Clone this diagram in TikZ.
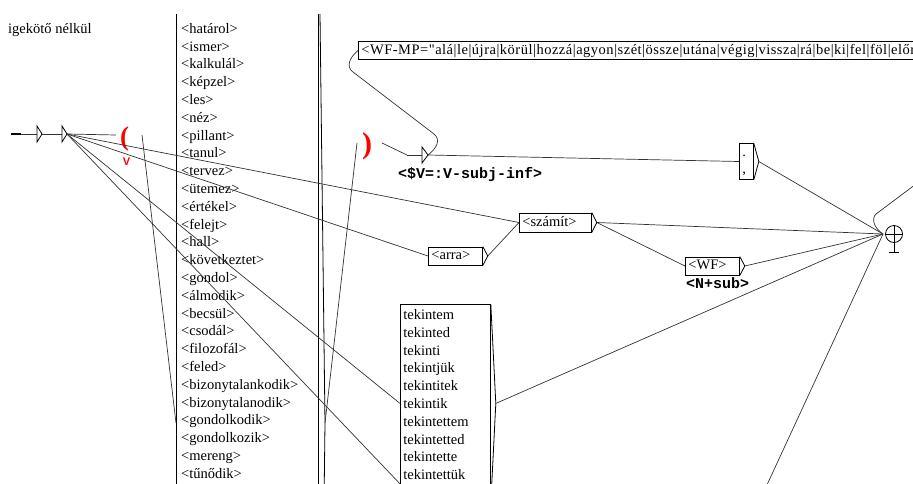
\documentclass[tikz,border=0pt]{standalone}
\usepackage{fontspec}
\setmainfont{Liberation Serif}
\newfontfamily\monobetu{Liberation Mono}
\newfontfamily\sansbetu{Liberation Sans}
\newfontfamily\ritkabetu[LetterSpace=3.5]{Liberation Serif}

\newcommand{\betu}{\fontsize{14.5}{17.8}\selectfont}
% kimeneti háromszög a doboz jobb oldalán
\newcommand{\csucs}[1]{\draw[line width=0.8pt] (#1.north east) -- ([xshift=5pt]#1.east) coordinate (#1ki) -- (#1.south east);}

\tikzset{
  doboz/.style={draw, line width=0.8pt, anchor=west, align=left, inner xsep=3pt, inner ysep=0pt, font=\betu},
  vonal/.style={black!80, line width=0.7pt},
  kimenet/.style={anchor=base west, inner sep=0pt, font=\monobetu\bfseries\fontsize{15}{15}\selectfont},
  zarojel/.style={text=red, inner sep=0pt}
}

\begin{document}
\begin{tikzpicture}[x=1pt, y=-1pt]
    \useasboundingbox (0,0) rectangle (913,483);
    \clip (0,0) rectangle (913,483);

    % Felirat
    \node[anchor=base west, inner sep=0pt, font=\betu] (cim) at (8,33) {igekötő nélkül};

    % Kezdőállapot és üres doboz
    \coordinate (kezd) at (11,134);
    \coordinate (e1) at (42,134);
    \coordinate (e1ki) at (67,134);
    \draw[line width=1.4pt] (kezd) -- (21,134);
    \draw[vonal] (21,134) -- (37,134);
    \draw[line width=0.8pt] (37,126) -- (e1) -- (37,142) -- cycle;
    \draw[vonal] (e1) -- (62,134);
    \draw[line width=0.8pt] (62,126) -- (e1ki) -- (62,142) -- cycle;

    % Változó eleje
    \node[zarojel, font=\bfseries\fontsize{27}{27}\selectfont] (nyit) at (124.5,139) {(};
    \node[zarojel, font=\sansbetu\bfseries\fontsize{11}{11}\selectfont] (valt) at (126.5,161.5) {V};
    \coordinate (nyitBe) at (116,135);
    \coordinate (nyitKi) at (142,135);

    % Igék listája (a doboz teteje és alja kilóg)
    \node[anchor=north west, align=left, inner sep=0pt, font=\betu] (igek) at (181,23)
      {<határol>\\<ismer>\\<kalkulál>\\<képzel>\\<les>\\<néz>\\<pillant>\\<tanul>\\<tervez>\\<ütemez>\\<értékel>\\<felejt>\\<hall>\\<következtet>\\<gondol>\\<álmodik>\\<becsül>\\<csodál>\\<filozofál>\\<feled>\\<bizonytalankodik>\\<bizonytalanodik>\\<gondolkodik>\\<gondolkozik>\\<mereng>\\<tűnődik>};
    \draw[line width=0.8pt] (176,14) -- (176,490);
    \draw[line width=0.8pt] (318,14) -- (318,490);
    \draw[line width=0.8pt] (320,14) -- (325,423) -- (318,997);
    \coordinate (listaBe) at (176,423);
    \coordinate (listaKi) at (325,423);

    % Változó vége
    \node[zarojel, font=\bfseries\fontsize{30}{30}\selectfont] (zar) at (367,146.5) {)};
    \coordinate (zarBe) at (357,143);
    \coordinate (zarKi) at (382,143);

    % Üres doboz kimenettel
    \coordinate (e2) at (407,155);
    \coordinate (e2ki) at (428,155);
    \draw[vonal] (e2) -- (422,155);
    \draw[line width=0.8pt] (422,147) -- (e2ki) -- (422,163) -- cycle;
    \node[kimenet] (sv) at (398,178) {<\$V=:V-subj-inf>};

    % Igekötők
    \node[doboz, text width=600pt, minimum height=17pt, font=\ritkabetu\betu] (wfmp) at (358,50.5)
      {\strut<WF-MP=\char"0022 alá|le|újra|körül|hozzá|agyon|szét|össze|utána|végig|vissza|rá|be|ki|fel|föl|előr};

    % Írásjelek
    \node[doboz, text width=8pt, minimum height=35pt] (pont) at (739,161.5) {\strut.\\\strut,};
    \csucs{pont}

    % számít, arra, WF
    \node[doboz, text width=66pt, minimum height=19pt] (szamit) at (519,222.5) {\strut<számít>};
    \csucs{szamit}
    \node[doboz, text width=48pt, minimum height=18pt] (arra) at (428,256) {\strut<arra>};
    \csucs{arra}
    \node[doboz, text width=48pt, minimum height=18pt] (wf) at (685,266) {\strut<WF>};
    \csucs{wf}
    \node[kimenet] (nsub) at (686,288) {<N+sub>};

    % tekint alakjai
    \node[doboz, anchor=north west, text width=84pt, inner ysep=5pt] (tekint) at (400,304)
      {tekintem\\tekinted\\tekinti\\tekintjük\\tekintitek\\tekintik\\tekintettem\\tekintetted\\tekintette\\tekintettük\\\mbox{}};
    \csucs{tekint}

    % Végállapot
    \node[circle, draw, line width=0.8pt, minimum size=17pt, inner sep=0pt] (veg) at (894,234) {};
    \draw[line width=0.8pt] (veg.west) -- (veg.east) (veg.north) -- (894,252) (889,252) -- (899,252);
    \coordinate (vegBe) at (883,234);

    % Kilógó végpontok
    \coordinate (lent1) at (403,487);
    \coordinate (lent2) at (766,487);
    \coordinate (jobbra) at (916,184);

    % Átmenetek
    \draw[vonal] (e1ki) -- (nyitBe);
    \draw[vonal] (e1ki) -- (szamit.west);
    \draw[vonal] (e1ki) -- (arra.west);
    \draw[vonal] (e1ki) -- (tekint.west);
    \draw[vonal] (e1ki) -- (lent1);
    \draw[vonal] (nyitKi) -- (listaBe);
    \draw[vonal] (listaKi) -- (zarBe);
    \draw[vonal] (zarKi) -- (e2);
    \draw[vonal] (e2ki) -- (pont.west);
    \draw[vonal] (e2ki) .. controls (437,148) and (441,140) .. (434,134) -- (353,72) .. controls (346,67) and (349,58) .. (wfmp.west);
    \draw[vonal] (arraki) -- (szamit.west);
    \draw[vonal] (szamitki) -- (wf.west);
    \draw[vonal] (szamitki) -- (vegBe);
    \draw[vonal] (wfki) -- (vegBe);
    \draw[vonal] (pontki) -- (vegBe);
    \draw[vonal] (tekintki) -- (vegBe);
    \draw[vonal] (lent2) -- (vegBe);
    \draw[vonal] (jobbra) -- (876,214) .. controls (871,219) and (874,228) .. (vegBe);
\end{tikzpicture}
\end{document}
